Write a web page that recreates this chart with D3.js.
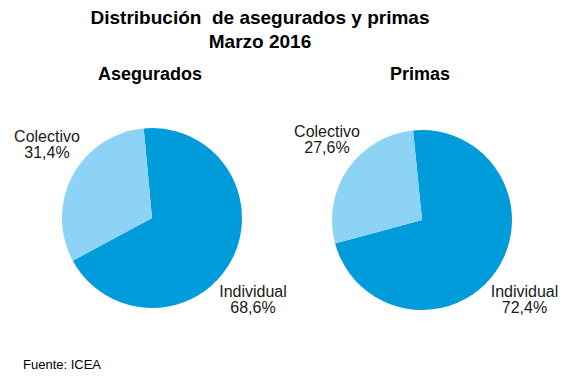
<!DOCTYPE html>
<html>
<head>
<meta charset="utf-8">
<script src="https://cdn.jsdelivr.net/npm/d3@7/dist/d3.min.js"></script>
<style>
  html, body { margin: 0; padding: 0; background: #fff; }
  svg { display: block; font-family: "Liberation Sans", Arial, sans-serif; }
</style>
</head>
<body>
<svg id="chart" width="577" height="380"></svg>
<script>
const titleLines = ["Distribución\u00a0 de asegurados y primas", "Marzo 2016"];
const charts = ["Asegurados", "Primas"];
const categories = ["Individual", "Colectivo"];
const aseguradosValues = [68.6, 31.4];
const primasValues = [72.4, 27.6];
const source = "Fuente: ICEA";

const colors = d3.scaleOrdinal().domain(categories).range(["#009bdb", "#8dd3f6"]);
const svg = d3.select("#chart");

svg.selectAll("text.title").data(titleLines).join("text")
  .attr("class", "title")
  .attr("x", 260).attr("y", (d, i) => 24 + i * 24)
  .attr("text-anchor", "middle")
  .attr("font-size", 19).attr("font-weight", "bold").attr("fill", "#000")
  .text(d => d);

const layouts = [
  { name: charts[0], values: aseguradosValues, cx: 152, cy: 218, r: 90, rot: -5.3, titleX: 150,
    labels: [{ x: 253, y: 296.5 }, { x: 47, y: 142 }] },
  { name: charts[1], values: primasValues, cx: 422, cy: 220, r: 90, rot: -5.7, titleX: 420,
    labels: [{ x: 524.5, y: 296.5 }, { x: 327, y: 137 }] }
];

const fmt = v => d3.format(".1f")(v).replace(".", ",") + "%";

layouts.forEach(L => {
  const data = categories.map((c, i) => ({ cat: c, value: L.values[i] }));
  const rot = L.rot * Math.PI / 180;
  const pie = d3.pie().value(d => d.value).sort(null)
    .startAngle(rot).endAngle(rot + 2 * Math.PI);
  const arc = d3.arc().innerRadius(0).outerRadius(L.r);
  const g = svg.append("g").attr("transform", `translate(${L.cx},${L.cy})`);
  g.selectAll("path").data(pie(data)).join("path")
    .attr("d", arc)
    .attr("fill", d => colors(d.data.cat));

  svg.append("text")
    .attr("x", L.titleX).attr("y", 80)
    .attr("text-anchor", "middle")
    .attr("font-size", 18).attr("font-weight", "bold").attr("fill", "#000")
    .text(L.name);

  data.forEach((d, i) => {
    const t = svg.append("text")
      .attr("x", L.labels[i].x).attr("y", L.labels[i].y)
      .attr("text-anchor", "middle")
      .attr("font-size", 16).attr("fill", "#1a1a1a");
    t.append("tspan").attr("x", L.labels[i].x).text(d.cat);
    t.append("tspan").attr("x", L.labels[i].x).attr("dy", 16).text(fmt(d.value));
  });
});

svg.append("text")
  .attr("x", 23).attr("y", 369)
  .attr("font-size", 13).attr("fill", "#000")
  .text(source);
</script>
</body>
</html>
